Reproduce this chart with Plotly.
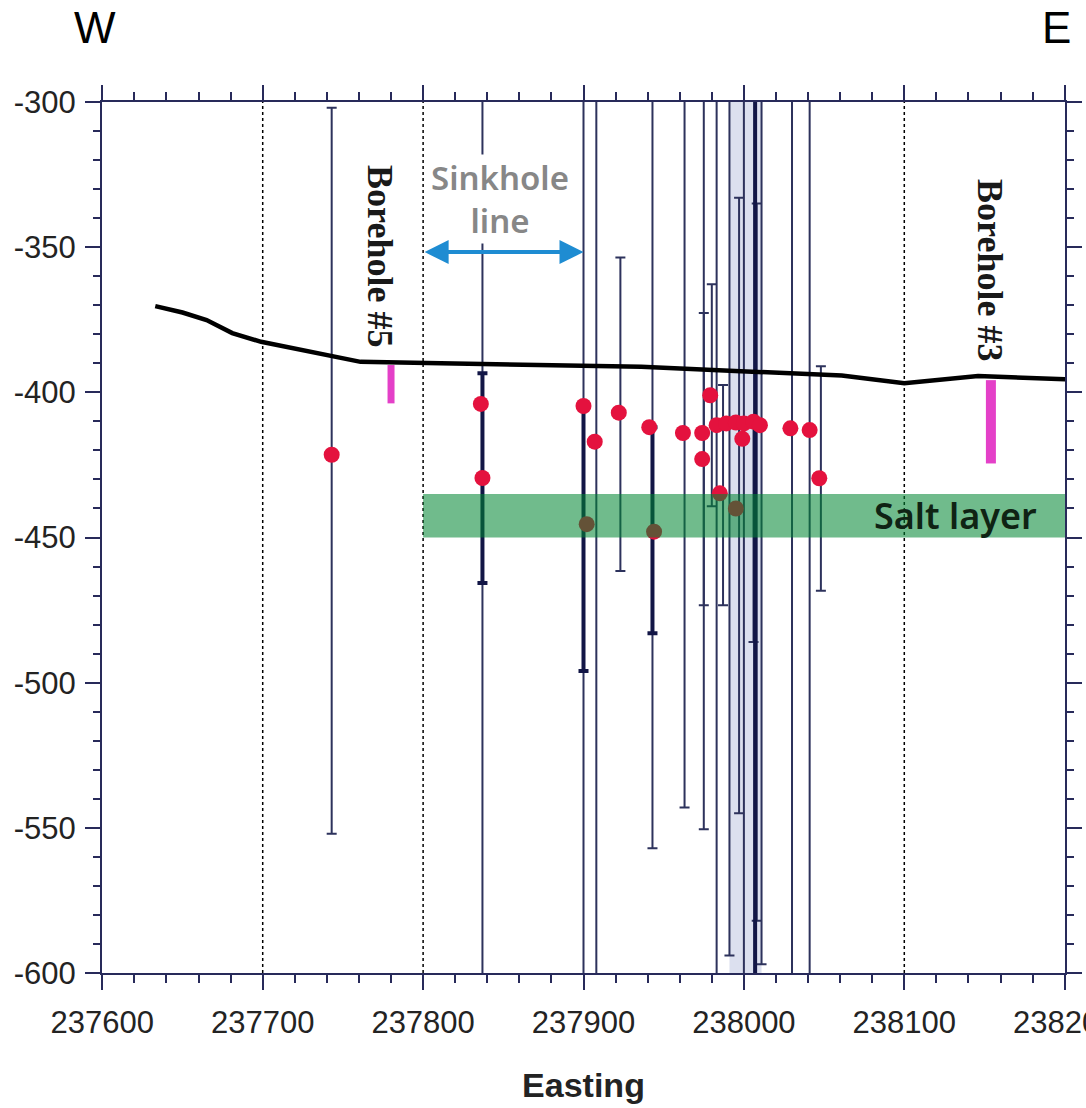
import plotly.graph_objects as go

# ---------------- data ----------------
surface_x = [237633, 237650, 237665, 237681, 237699, 237743, 237761, 237811, 237936, 237998, 238061, 238100, 238146, 238201]
surface_y = [-370.3, -372.5, -375.1, -379.6, -382.6, -387.7, -389.5, -390.0, -391.2, -392.7, -394.2, -396.9, -394.4, -395.5]

# thin (single) uncertainty bars: easting, top depth, bottom depth
thin_x      = [237743, 237837, 237900, 237908, 237923, 237943, 237963, 237975, 237975, 237980, 237987, 237983, 237991, 237997, 238000, 238008, 238006, 238011, 238030, 238041, 238048]
thin_top    = [-302, -280, -280, -280, -353.6, -280, -280, -280, -372.7, -362.8, -397.5, -280, -280, -333, -280, -335, -410, -280, -280, -280, -391]
thin_bottom = [-552, -620, -620, -620, -461.5, -557, -543, -550.5, -473.3, -439.2, -473.3, -620, -594, -545, -620, -582, -486, -597, -620, -620, -468.3]

# overlapping (dark) uncertainty bars
thick_x      = [237837, 237900, 237943, 238007]
thick_top    = [-393.4, -404, -412, -280]
thick_bottom = [-465.7, -496, -483, -620]

# estimated source depths
dot_x = [237743, 237836, 237837, 237900, 237907, 237922, 237941, 237962, 237974, 237974, 237979, 237983,
         237985, 237989, 237995, 237999, 238000, 238006, 238010, 238029, 238041, 238047, 237902, 237944, 237995]
dot_y = [-421.5, -404, -429.5, -404.7, -417, -407, -412, -414, -414, -423, -401, -411.3,
         -434.8, -410.7, -410.4, -416, -410.7, -410.1, -411.3, -412.4, -413, -429.6, -445.4, -448, -440]

# boreholes
borehole_names  = ["Borehole #5", "Borehole #3"]
borehole_x      = [237780, 238154]
borehole_top    = [-390.6, -395.8]
borehole_bottom = [-403.8, -424.5]
borehole_label_x = [237773, 238153]
borehole_label_y = [-353, -358]

salt_top, salt_bottom, salt_start = -435, -450, 237800
sinkhole_start, sinkhole_end, sinkhole_y = 237800, 237900, -351.7
dotted_x = [237700, 237800, 238100]
shade_x0, shade_x1 = 237991, 238011

x_range = [237599.8, 238200.2]
y_range = [-600, -300]
x_tickvals = [237600, 237700, 237800, 237900, 238000, 238100, 238200]
x_ticktext = ["237600", "237700", "237800", "237900", "238000", "238100", "238200"]
y_tickvals = [-600, -550, -500, -450, -400, -350, -300]
y_ticktext = ["-600", "-550", "-500", "-450", "-400", "-350", "-300"]

# ---------------- figure ----------------
fig = go.Figure()

fig.add_shape(type="rect", x0=shade_x0, x1=shade_x1, y0=y_range[0], y1=y_range[1],
              fillcolor="rgb(220,224,239)", line_width=0, layer="below")
for xv in dotted_x:
    fig.add_shape(type="line", x0=xv, x1=xv, y0=y_range[0], y1=y_range[1],
                  line=dict(color="black", width=1.5, dash="dot"), layer="below")

fig.add_trace(go.Scatter(
    x=thin_x, y=thin_bottom, mode="markers",
    marker=dict(size=1, color="rgba(0,0,0,0)"),
    error_y=dict(type="data", symmetric=False,
                 array=[t - b for t, b in zip(thin_top, thin_bottom)],
                 arrayminus=[0] * len(thin_x),
                 color="rgb(45,50,92)", thickness=2, width=5),
    showlegend=False, hoverinfo="skip"))

fig.add_trace(go.Scatter(
    x=thick_x, y=thick_bottom, mode="markers",
    marker=dict(size=1, color="rgba(0,0,0,0)"),
    error_y=dict(type="data", symmetric=False,
                 array=[t - b for t, b in zip(thick_top, thick_bottom)],
                 arrayminus=[0] * len(thick_x),
                 color="rgb(18,22,70)", thickness=4, width=5),
    showlegend=False, hoverinfo="skip"))

fig.add_trace(go.Scatter(x=surface_x, y=surface_y, mode="lines",
                         line=dict(color="black", width=4.5), showlegend=False))

for bx, bt, bb, w in zip(borehole_x, borehole_top, borehole_bottom, [7, 10]):
    fig.add_trace(go.Scatter(x=[bx, bx], y=[bt, bb], mode="lines",
                             line=dict(color="rgb(228,64,200)", width=w), showlegend=False))

fig.add_trace(go.Scatter(x=dot_x, y=dot_y, mode="markers",
                         marker=dict(size=16, color="rgb(228,18,62)"), showlegend=False))

# salt layer band (over the data, semi-transparent)
fig.add_shape(type="rect", x0=salt_start, x1=x_range[1], y0=salt_bottom, y1=salt_top,
              fillcolor="rgb(0,134,50)", opacity=0.56, line_width=0, layer="above")

fig.add_annotation(x=238132, y=(salt_top + salt_bottom) / 2, text="Salt layer", showarrow=False,
                   font=dict(family="Noto Sans", size=36, weight=600, color="rgb(15,35,20)"))

fig.add_annotation(x=237848, y=-333.5, text="Sinkhole<br>line", showarrow=False,
                   font=dict(family="Noto Sans", size=33, weight=600, color="rgb(135,135,135)"),
                   bgcolor="white", borderpad=0)

fig.add_annotation(x=sinkhole_end, y=sinkhole_y, ax=sinkhole_start, ay=sinkhole_y,
                   xref="x", yref="y", axref="x", ayref="y", text="",
                   showarrow=True, arrowhead=2, arrowside="end+start",
                   arrowsize=1.2, arrowwidth=4, arrowcolor="rgb(30,140,210)")

for name, lx, ly in zip(borehole_names, borehole_label_x, borehole_label_y):
    fig.add_annotation(x=lx, y=ly, text="<b>" + name + "</b>", textangle=90, showarrow=False,
                       font=dict(family="Liberation Serif", size=36, color="rgb(25,25,25)"))

fig.add_annotation(x=-0.007, y=1.085, xref="paper", yref="paper", text="W", showarrow=False,
                   xanchor="center", yanchor="middle",
                   font=dict(family="Liberation Sans", size=44, color="black"))
fig.add_annotation(x=0.9907, y=1.085, xref="paper", yref="paper", text="E", showarrow=False,
                   xanchor="center", yanchor="middle",
                   font=dict(family="Liberation Sans", size=44, color="black"))

axis_col = "rgb(40,42,90)"
fig.update_xaxes(range=x_range, tickvals=x_tickvals, ticktext=x_ticktext, ticks="outside",
                 ticklen=15, tickwidth=2, automargin=False, ticklabeloverflow="allow",
                 tickcolor=axis_col, showline=True, linecolor=axis_col, linewidth=2, mirror="ticks",
                 showgrid=False, zeroline=False,
                 minor=dict(dtick=20, tick0=237600, ticks="outside", ticklen=8, tickwidth=1.5, tickcolor=axis_col),
                 tickfont=dict(family="Liberation Sans", size=31, color="rgb(35,35,35)"),
                 ticklabelstandoff=6,
                 title=dict(text="<b>Easting</b>", font=dict(family="Liberation Sans", size=34, color="rgb(35,35,35)"),
                            standoff=34))
fig.update_yaxes(range=y_range, tickvals=y_tickvals, ticktext=y_ticktext, ticks="outside",
                 ticklen=15, tickwidth=2, automargin=False,
                 tickcolor=axis_col, showline=True, linecolor=axis_col, linewidth=2, mirror="ticks",
                 showgrid=False, zeroline=False,
                 minor=dict(dtick=10, tick0=-600, ticks="outside", ticklen=7, tickwidth=1.5, tickcolor=axis_col),
                 tickfont=dict(family="Liberation Sans", size=31, color="rgb(35,35,35)"),
                 ticklabelstandoff=3)

fig.update_layout(width=1086, height=1108, margin=dict(l=102, r=21, t=102, b=135),
                  paper_bgcolor="white", plot_bgcolor="white", showlegend=False)

fig.write_html("out.html")
